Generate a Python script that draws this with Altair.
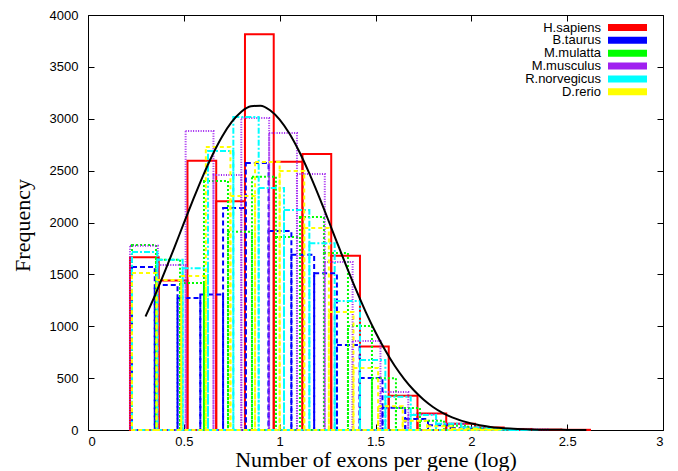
import altair as alt
import pandas as pd

# ---------------- data ----------------
species = ["H.sapiens", "B.taurus", "M.mulatta", "M.musculus", "R.norvegicus", "D.rerio"]
colors = ["#ff0000", "#0000ff", "#00ff00", "#a020f0", "#00ffff", "#ffff00"]
dashes = [[1, 0], [5, 3], [2, 2], [1, 1.5], [6, 2, 2, 2], [4, 3]]

bin_start = [0.219, 0.2295, 0.2295, 0.219, 0.2295, 0.2295]
bin_width = [0.150, 0.1188, 0.1252, 0.1452, 0.1322, 0.1284]

h_sapiens = [1665, 1440, 2595, 2205, 3815, 2585, 2660, 1680, 805, 330, 158, 60, 25, 10, 4, 2]
b_taurus = [1571, 1398, 1272, 1305, 2140, 2573, 1918, 1690, 1511, 820, 501, 215, 106, 45, 20, 8, 3]
m_mulatta = [1783, 1640, 1417, 2400, 1910, 2440, 1860, 2053, 1706, 1002, 500, 212, 90, 40, 15, 5]
m_musculus = [1775, 1590, 2882, 2458, 3007, 2863, 2467, 1620, 858, 366, 150, 60, 25, 10, 4]
r_norvegicus = [1716, 1640, 1560, 2690, 3017, 2333, 2120, 1800, 1243, 675, 320, 145, 60, 25, 10, 3]
d_rerio = [1513, 1446, 1484, 2728, 2255, 2583, 2496, 1947, 1137, 598, 230, 90, 35, 12, 4]
heights = [h_sapiens, b_taurus, m_mulatta, m_musculus, r_norvegicus, d_rerio]

# fitted curve, points
curve_x = [0.30, 0.35, 0.40, 0.45, 0.50, 0.55, 0.60, 0.65, 0.70, 0.75, 0.80, 0.85,
           0.90, 0.95, 1.00, 1.05, 1.10, 1.15, 1.20, 1.25, 1.30, 1.35, 1.40, 1.45,
           1.50, 1.55, 1.60, 1.65, 1.70, 1.75, 1.80, 1.85, 1.90, 2.00, 2.10, 2.20,
           2.30, 2.40, 2.50, 2.60]
curve_y = [1094, 1301, 1524, 1756, 1993, 2227, 2450, 2653, 2829, 2969, 3068, 3121,
           3126, 3082, 2992, 2860, 2691, 2492, 2273, 2041, 1804, 1570, 1345, 1134,
           942, 770, 619, 491, 383, 294, 222, 165, 121, 62, 30, 14,
           6, 2, 1, 0]

x_ticks = [0, 0.5, 1, 1.5, 2, 2.5, 3]
y_ticks = [0, 500, 1000, 1500, 2000, 2500, 3000, 3500, 4000]

# ---------------- chart ----------------
xscale = alt.Scale(domain=[0, 3], nice=False, zero=False)
yscale = alt.Scale(domain=[0, 4000], nice=False)

layers = []
for k, name in enumerate(species):
    rows = []
    for i, h in enumerate(heights[k]):
        rows.append({"x0": bin_start[k] + i * bin_width[k],
                     "x1": bin_start[k] + (i + 1) * bin_width[k],
                     "y": h, "y0": 0})
    df = pd.DataFrame(rows)
    if k == 0:
        xenc = alt.X("x0:Q", scale=xscale,
                     axis=alt.Axis(values=x_ticks, format="~g", orient="bottom", offset=-6,
                                   tickSize=6, labelPadding=5, domain=False, grid=False,
                                   title="Number of exons per gene (log)",
                                   titleY=42, titleBaseline="alphabetic"))
        yenc = alt.Y("y:Q", scale=yscale,
                     axis=alt.Axis(values=y_ticks, format="d", orient="left", offset=-6,
                                   tickSize=6, labelPadding=10, domain=False, grid=False,
                                   title="Frequency", titleAngle=270,
                                   titleX=-65, titleY=210, titleBaseline="alphabetic",
                                   titleAlign="center"))
    else:
        xenc = alt.X("x0:Q", scale=xscale, axis=None)
        yenc = alt.Y("y:Q", scale=yscale, axis=None)
    mark_kw = dict(stroke=colors[k], strokeWidth=2, fillOpacity=0)
    if k > 0:
        mark_kw["strokeDash"] = dashes[k]
    layers.append(
        alt.Chart(df).mark_rect(**mark_kw).encode(
            x=xenc, x2="x1:Q", y=yenc, y2="y0:Q"
        )
    )

curve_df = pd.DataFrame({"cx": curve_x, "cy": curve_y})
curve = alt.Chart(curve_df).mark_line(color="black", strokeWidth=2, interpolate="monotone").encode(
    x=alt.X("cx:Q", scale=xscale,
            axis=alt.Axis(values=x_ticks, orient="top", offset=-6, tickSize=6,
                          labels=False, domain=False, grid=False, title=None)),
    y=alt.Y("cy:Q", scale=yscale,
            axis=alt.Axis(values=y_ticks, orient="right", offset=-6, tickSize=6,
                          labels=False, domain=False, grid=False, title=None)),
)
layers.append(curve)

leg_df = pd.DataFrame({"species": species, "row": list(range(len(species)))})
leg_text = alt.Chart(leg_df).transform_calculate(
    ly="12.5 + datum.row * 12.85"
).mark_text(align="right", baseline="middle", font="Liberation Sans", fontSize=13,
            color="black").encode(
    x=alt.value(513),
    y=alt.Y("ly:Q", scale=None, axis=None),
    text="species:N",
)
leg_swatch = alt.Chart(leg_df).transform_calculate(
    ly1="12.5 + datum.row * 12.85 - 3.5",
    ly2="12.5 + datum.row * 12.85 + 3.5",
).mark_rect().encode(
    x=alt.value(520),
    x2=alt.value(559),
    y=alt.Y("ly1:Q", scale=None, axis=None),
    y2="ly2:Q",
    color=alt.Color("species:N", scale=alt.Scale(domain=species, range=colors), legend=None),
)
layers += [leg_text, leg_swatch]

chart = alt.layer(*layers).resolve_axis(x="independent", y="independent").properties(
    width=575, height=415,
    autosize=alt.AutoSizeParams(type="none"),
    padding={"left": 80, "top": 7, "right": 7, "bottom": 41},
).configure_view(
    stroke="black", strokeWidth=1
).configure_axis(
    labelFont="Liberation Sans", labelFontSize=13, labelColor="black",
    tickColor="black", tickWidth=1,
    titleFont="Liberation Serif", titleFontSize=22, titleFontWeight="normal",
    titleColor="black",
)

chart.save("out.html", embed_options={"renderer": "svg", "actions": False})
